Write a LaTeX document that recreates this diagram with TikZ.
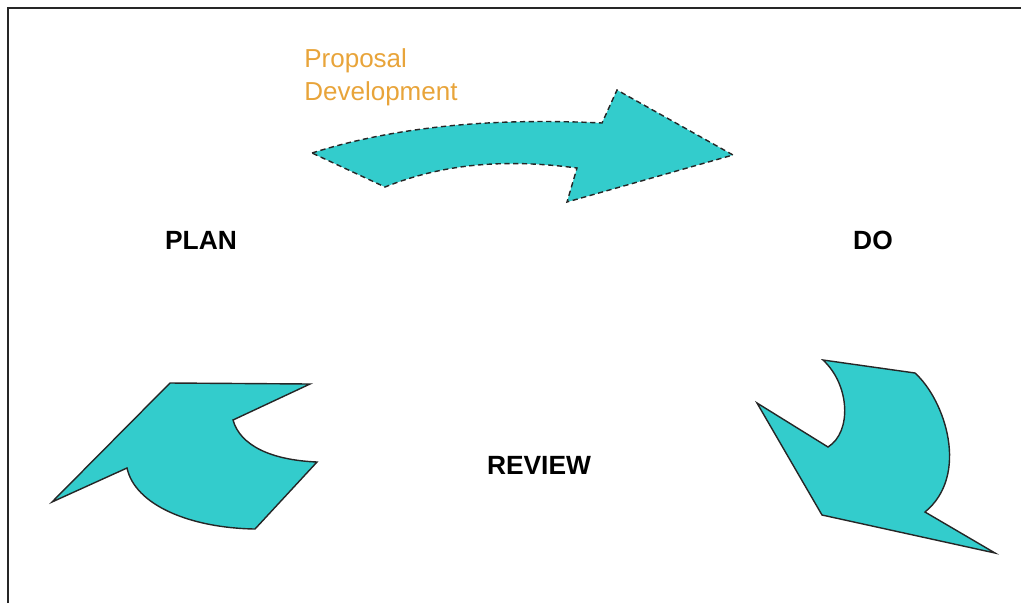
\documentclass[tikz,border=0pt]{standalone}
\usepackage{fontspec}
\setmainfont{Liberation Sans}
\usepackage{tikz}
\definecolor{turkis}{RGB}{51,204,204}
\definecolor{vang}{RGB}{232,164,58}
\tikzset{pil/.style={fill=turkis,draw=black!85,line width=0.8pt,line join=miter},
	nhan/.style={font=\bfseries\fontsize{15}{18}\selectfont,text=black}}

\begin{document}
\begin{tikzpicture}[x=0.02cm,y=-0.02cm]
			\useasboundingbox (0,0) rectangle (1021,603);
			\draw[line width=1.6pt,black!85]  (8,603)-- (8,8)-- (1021,8);

			\draw[pil,densely dashed]  (312,153) .. controls (400,125) and (500,118) .. (602,123)
				-- (617,90) -- (733,155) -- (567,202) -- (577,168)
				.. controls (500,158) and (440,165) .. (385,187) -- cycle;
			\draw[pil]  (823,360)-- (915,373) .. controls (945,400) and (970,475) .. (925,512)
				-- (995,553) -- (822,515) -- (757,403) -- (828,447)
				.. controls (852,432) and (850,385) .. (823,360) -- cycle;
			\draw[pil]  (52,502)-- (170,383)-- (310,384)-- (233,420)
				.. controls (240,445) and (270,460) .. (317,462) -- (255,529)
				.. controls (190,528) and (135,505) .. (127,468) -- cycle;

			\node[anchor=north west,align=left,text=vang,inner sep=0pt,
				font=\fontsize{14.8}{18.7}\selectfont] (proposal) at (304,48) {Proposal\\Development};
			\node[nhan] (plan) at (201,240) {PLAN};
			\node[nhan] (do) at (873,240) {DO};
			\node[nhan] (review) at (539,465) {REVIEW};
		\end{tikzpicture}
\end{document}
